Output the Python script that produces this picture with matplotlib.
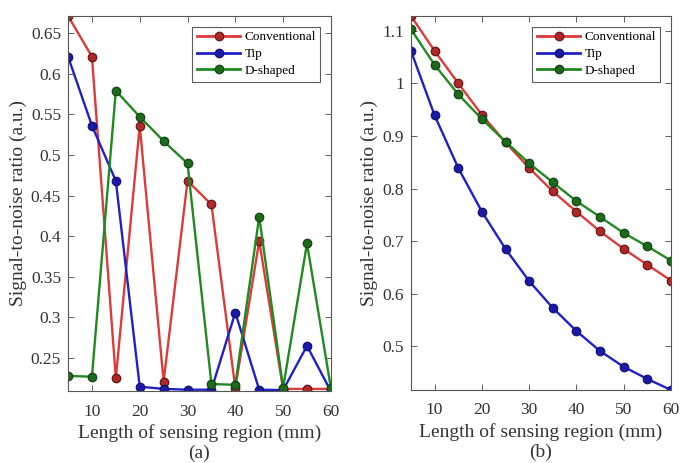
import matplotlib
matplotlib.use('Agg')
import matplotlib.pyplot as plt
from matplotlib.ticker import FuncFormatter

length_mm = [5, 10, 15, 20, 25, 30, 35, 40, 45, 50, 55, 60]

# (a)
conv_a = [0.671, 0.621, 0.225, 0.536, 0.221, 0.468, 0.439, 0.213, 0.394, 0.212, 0.212, 0.212]
tip_a = [0.621, 0.536, 0.468, 0.2147, 0.212, 0.211, 0.211, 0.306, 0.211, 0.2105, 0.265, 0.209]
dshape_a = [0.228, 0.227, 0.579, 0.547, 0.517, 0.4895, 0.218, 0.217, 0.424, 0.2134, 0.391, 0.213]

# (b)
conv_b = [1.128, 1.0615, 1.0, 0.94, 0.8875, 0.839, 0.7945, 0.756, 0.7186, 0.685, 0.655, 0.625]
tip_b = [1.0615, 0.939, 0.839, 0.756, 0.685, 0.624, 0.573, 0.529, 0.491, 0.461, 0.438, 0.417]
dshape_b = [1.1027, 1.035, 0.979, 0.932, 0.889, 0.848, 0.8116, 0.776, 0.746, 0.7155, 0.69, 0.663]

series_names = ['Conventional', 'Tip', 'D-shaped']
line_colors = ['#dd3a3a', '#2020c8', '#208a20']
face_colors = ['#b02828', '#1a1aa8', '#1a6a1a']
edge_colors = ['#601010', '#10106a', '#0f3f0f']

plt.rcParams['font.family'] = ['Liberation Serif', 'DejaVu Serif']

fig = plt.figure(figsize=(6.81, 4.63), dpi=100)
ax_a = fig.add_axes([0.0999, 0.1555, 0.386, 0.81])
ax_b = fig.add_axes([0.6035, 0.1577, 0.3818, 0.8078])

fmt = FuncFormatter(lambda v, p: '%g' % round(v, 4))


def draw_panel(ax, data, ylim, yticks, caption):
    for vals, name, lc, fc, ec in zip(data, series_names, line_colors, face_colors, edge_colors):
        ax.plot(length_mm, vals, color=lc, lw=1.7, marker='o', ms=6.2,
                mfc=fc, mec=ec, mew=0.8, label=name)
    ax.set_xlim(5, 60)
    ax.set_ylim(*ylim)
    ax.set_xticks([10, 20, 30, 40, 50, 60])
    ax.set_yticks(yticks)
    ax.yaxis.set_major_formatter(fmt)
    ax.tick_params(direction='in', top=True, right=True, labelsize=12.5,
                   length=4, width=0.6, colors='#444444', labelcolor='#333333')
    ax.tick_params(axis='x', pad=9)
    ax.tick_params(axis='y', pad=5)
    for s in ax.spines.values():
        s.set_color('#555555')
        s.set_linewidth(0.8)
    ax.set_xlabel('Length of sensing region (mm)\n' + caption, fontsize=14,
                  color='#333333', linespacing=1.25, labelpad=3)
    ax.set_ylabel('Signal-to-noise ratio (a.u.)', fontsize=14, color='#333333', labelpad=3)
    leg = ax.legend(loc='upper right', fontsize=9.5, frameon=True, fancybox=False,
                    borderpad=0.35, labelspacing=0.35, handlelength=3.3,
                    handletextpad=0.3, borderaxespad=0.8)
    leg.get_frame().set_edgecolor('#333333')
    leg.get_frame().set_linewidth(0.8)
    for ln in leg.get_lines():
        ln.set_linewidth(2.0)


draw_panel(ax_a, [conv_a, tip_a, dshape_a], (0.2094, 0.671),
           [0.25, 0.3, 0.35, 0.4, 0.45, 0.5, 0.55, 0.6, 0.65], '(a)')
draw_panel(ax_b, [conv_b, tip_b, dshape_b], (0.417, 1.128),
           [0.5, 0.6, 0.7, 0.8, 0.9, 1.0, 1.1], '(b)')

fig.savefig('out.png', dpi=100)
